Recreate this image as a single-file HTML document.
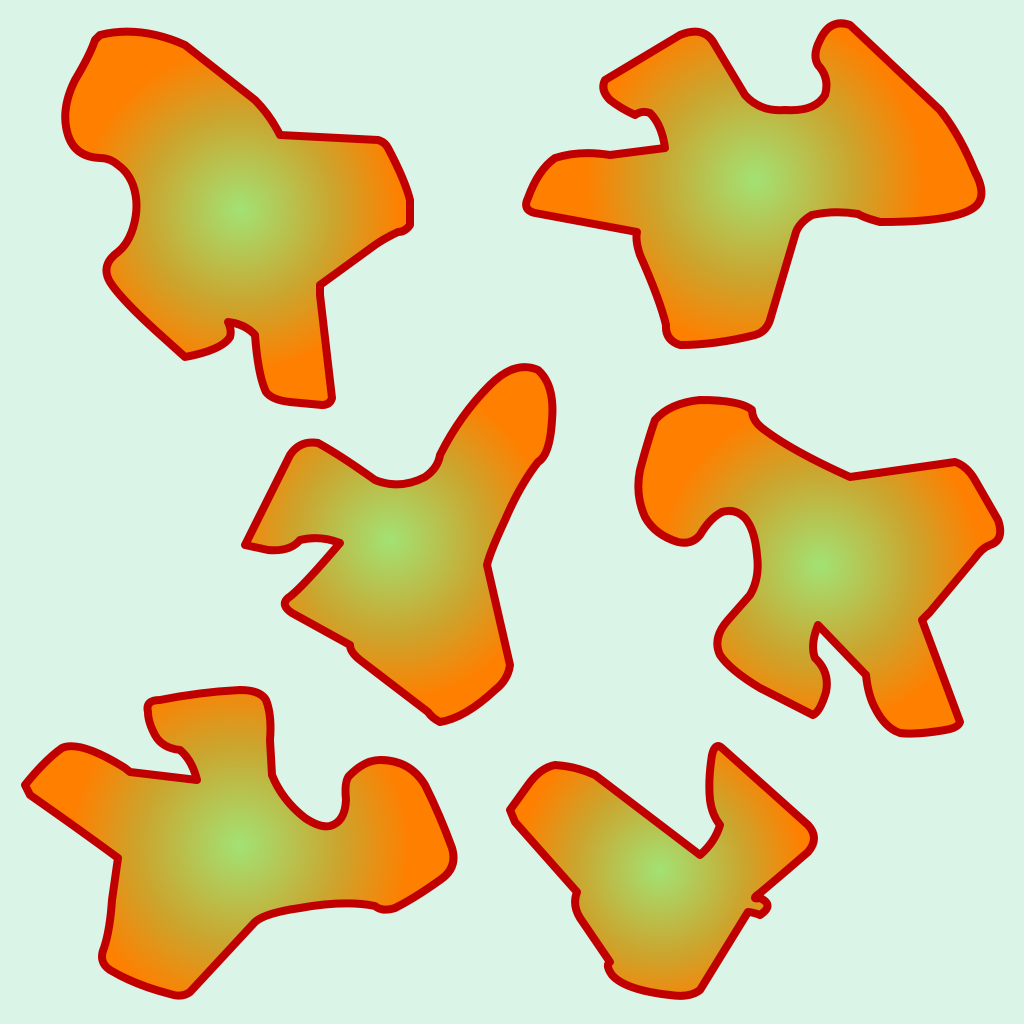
<!DOCTYPE html>
<html><head><meta charset="utf-8"><style>html,body{margin:0;padding:0;background:#daf4e8}svg{display:block}</style></head>
<body>
<svg width="1024" height="1024" viewBox="0 0 1024 1024">
<defs>
<radialGradient id="g1" gradientUnits="userSpaceOnUse" cx="240" cy="210" r="190"><stop offset="0" stop-color="#a2e274"/><stop offset="0.5" stop-color="#cba52e"/><stop offset="0.85" stop-color="#ff7f00"/></radialGradient>
<radialGradient id="g2" gradientUnits="userSpaceOnUse" cx="755" cy="180" r="200"><stop offset="0" stop-color="#a2e274"/><stop offset="0.5" stop-color="#cba52e"/><stop offset="0.85" stop-color="#ff7f00"/></radialGradient>
<radialGradient id="g3" gradientUnits="userSpaceOnUse" cx="390" cy="540" r="190"><stop offset="0" stop-color="#a2e274"/><stop offset="0.5" stop-color="#cba52e"/><stop offset="0.85" stop-color="#ff7f00"/></radialGradient>
<radialGradient id="g4" gradientUnits="userSpaceOnUse" cx="820" cy="565" r="190"><stop offset="0" stop-color="#a2e274"/><stop offset="0.5" stop-color="#cba52e"/><stop offset="0.85" stop-color="#ff7f00"/></radialGradient>
<radialGradient id="g5" gradientUnits="userSpaceOnUse" cx="240" cy="845" r="200"><stop offset="0" stop-color="#a2e274"/><stop offset="0.5" stop-color="#cba52e"/><stop offset="0.85" stop-color="#ff7f00"/></radialGradient>
<radialGradient id="g6" gradientUnits="userSpaceOnUse" cx="660" cy="870" r="170"><stop offset="0" stop-color="#a2e274"/><stop offset="0.5" stop-color="#cba52e"/><stop offset="0.85" stop-color="#ff7f00"/></radialGradient>
</defs>
<g stroke="#c00000" stroke-width="8" stroke-linejoin="round" stroke-linecap="round">
<path fill="url(#g1)" d="M100,35 Q140,25 185,45 L255,100 Q270,115 280,135 L378,140 Q385,142 388,148 Q405,180 410,200 L410,225 Q405,232 398,232 Q385,238 375,245 L320,285 L320,295 L332,398 Q330,405 322,405 L290,402 Q272,400 266,392 Q258,375 255,335 Q245,324 228,322 Q232,330 230,337 Q222,350 185,357 L155,330 Q120,298 110,282 Q100,265 118,252 Q128,244 133,228 Q140,205 133,185 Q128,172 118,165 Q110,158 100,158 Q75,157 68,135 Q60,110 75,80 Q90,55 95,40 Z"/>
<path fill="url(#g2)" d="M605,80 L680,35 Q705,25 715,45 L745,95 Q760,112 785,110 Q815,112 825,95 Q830,78 818,65 Q812,55 820,40 Q830,18 850,25 L940,110 Q960,135 975,172 Q990,200 970,210 Q948,222 880,222 Q865,218 858,214 Q835,210 812,215 Q800,222 796,232 L770,320 Q766,332 755,335 Q715,345 680,345 Q665,340 666,325 Q660,300 640,255 Q635,240 637,232 L535,213 Q522,210 528,198 Q538,170 555,158 Q580,150 610,155 L665,148 Q662,125 650,113 Q642,110 635,115 Q620,108 610,100 Q600,90 605,80 Z"/>
<path fill="url(#g3)" d="M245,545 L290,455 Q300,440 318,443 Q340,455 375,480 Q400,490 425,477 Q438,468 440,455 Q460,415 490,385 Q515,360 538,370 Q555,385 552,420 Q550,455 538,462 Q520,485 505,520 Q490,552 487,565 L510,665 Q508,680 495,690 Q465,718 440,722 Q432,718 428,712 L360,660 Q350,652 350,645 L292,613 Q280,605 288,598 Q300,590 340,543 Q320,535 300,540 Q290,552 268,550 Z"/>
<path fill="url(#g4)" d="M655,420 Q670,403 700,400 Q740,400 752,410 Q752,420 762,428 Q790,450 850,477 L955,462 Q967,466 975,480 L998,520 Q1005,540 990,545 Q982,548 975,558 L930,612 L922,620 L960,722 Q958,728 945,730 Q915,735 900,733 Q885,728 875,708 Q868,695 866,675 L818,625 Q810,645 815,658 Q830,672 826,692 Q820,712 813,715 L760,688 Q730,670 720,655 Q712,638 728,620 L750,595 Q760,578 757,555 Q755,530 745,518 Q735,508 722,512 Q710,518 700,535 Q692,545 678,542 Q655,535 645,517 Q635,495 640,470 Q648,440 655,420 Z"/>
<path fill="url(#g5)" d="M25,785 Q45,760 62,748 Q80,740 125,768 L130,772 L197,780 Q192,760 180,750 Q162,748 155,735 Q148,722 148,712 Q145,700 160,700 Q200,692 240,690 Q260,690 266,700 Q272,715 270,740 L272,775 Q282,800 305,818 Q320,828 330,826 Q345,822 346,800 Q344,780 350,775 Q365,760 380,760 Q410,760 425,785 Q440,815 452,848 Q458,868 440,880 Q415,898 395,908 Q382,912 375,906 Q345,900 300,908 Q265,913 255,922 L190,992 Q182,998 170,994 Q135,985 110,970 Q98,962 104,948 Q110,930 112,900 L118,858 Q80,830 30,795 Z"/>
<path fill="url(#g6)" d="M510,810 L528,785 Q540,768 555,765 Q575,766 595,775 L700,855 Q715,842 720,825 Q712,815 710,800 Q708,780 712,755 Q715,742 722,748 L808,825 Q820,838 808,852 Q785,872 760,893 Q750,900 760,898 Q775,905 760,915 Q752,912 748,912 L700,990 Q690,998 670,995 Q625,990 612,975 Q605,965 610,962 Q595,940 580,918 Q572,905 577,892 L515,822 Z"/>
</g>
</svg>
</body></html>
